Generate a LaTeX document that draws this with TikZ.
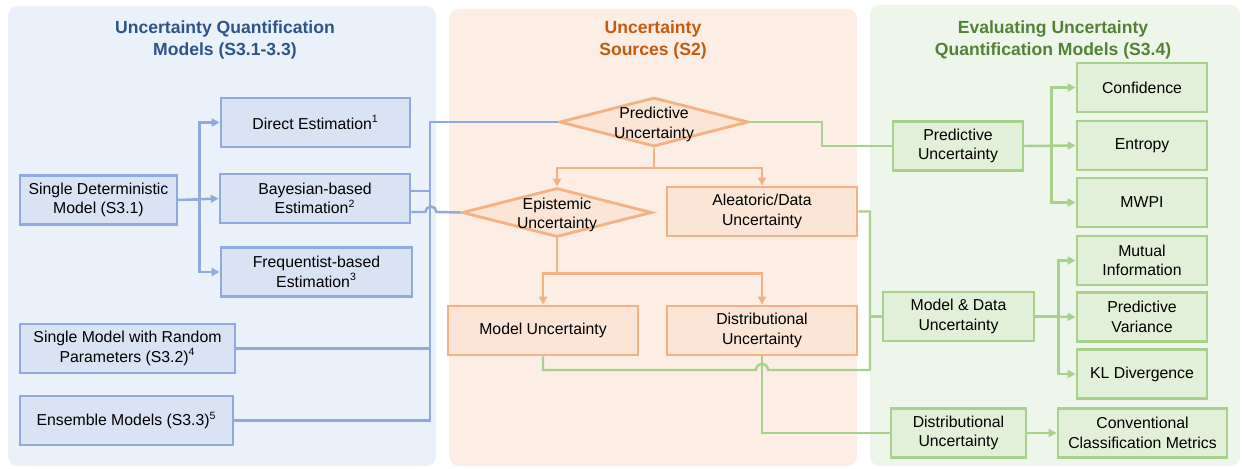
\documentclass[tikz,border=0pt]{standalone}
\usepackage{fontspec}
\setmainfont{Liberation Sans}
\usetikzlibrary{shapes.geometric, arrows.meta}
\definecolor{bluel}{HTML}{8FAADC}
\definecolor{bluef}{HTML}{DAE3F3}
\definecolor{blueb}{HTML}{EAF1FA}
\definecolor{bluet}{RGB}{46,84,140}
\definecolor{orl}{HTML}{F4B183}
\definecolor{orf}{HTML}{FBE5D6}
\definecolor{orb}{HTML}{FCEEE4}
\definecolor{ort}{HTML}{C55A11}
\definecolor{grl}{HTML}{A9D18E}
\definecolor{grf}{HTML}{E2F0D9}
\definecolor{grb}{HTML}{EEF5EA}
\definecolor{grt}{HTML}{548235}

\begin{document}
\begin{tikzpicture}[x=0.02cm, y=-0.02cm, font=\fontsize{9}{11}\selectfont,
  box/.style={draw, line width=1.6pt, minimum height=0.98cm, inner sep=2pt, align=center},
  bbox/.style={box, draw=bluel, fill=bluef},
  obox/.style={box, draw=orl, fill=orf},
  gbox/.style={box, draw=grl, fill=grf},
  dia/.style={diamond, draw=orl, fill=orf, line width=1.6pt, minimum width=3.78cm, minimum height=0.98cm},
  title/.style={font=\fontsize{10}{12}\selectfont\bfseries, align=center},
  bl/.style={draw=bluel, line width=1.4pt},
  ol/.style={draw=orl, line width=1.4pt},
  gl/.style={draw=grl, line width=1.4pt},
  tip/.style={-{Triangle[length=4.5pt,width=4.5pt]}}]
\useasboundingbox (0,0) rectangle (1244,469);
% Draw panels
\fill[blueb, rounded corners=0.2cm] (8,6) rectangle (436,466);
\fill[orb, rounded corners=0.2cm] (449,9) rectangle (857,466);
\fill[grb, rounded corners=0.2cm] (870,5) rectangle (1240,466);
\node[title, text=bluet] (tq) at (225,40) {Uncertainty Quantification\\Models (S3.1-3.3)};
\node[title, text=ort] (ts) at (653,40) {Uncertainty\\Sources (S2)};
\node[title, text=grt] (te) at (1053,40) {Evaluating Uncertainty\\Quantification Models (S3.4)};
% Draw models
\node[bbox, minimum width=3.14cm] (sdm) at (98.5,200) {Single Deterministic\\Model (S3.1)};
\node[bbox, minimum width=3.78cm] (de) at (315.5,122.5) {Direct Estimation\textsuperscript{1}};
\node[bbox, minimum width=3.8cm] (be) at (315,198.5) {Bayesian-based\\Estimation\textsuperscript{2}};
\node[bbox, minimum width=3.82cm] (fe) at (316.5,272) {Frequentist-based\\Estimation\textsuperscript{3}};
\node[bbox, minimum width=4.3cm] (srp) at (127.5,348.5) {Single Model with Random\\Parameters (S3.2)\textsuperscript{4}};
\node[bbox, minimum width=4.26cm] (ens) at (126.5,420.5) {Ensemble Models (S3.3)\textsuperscript{5}};
% Draw sources
\node[dia, label={[align=center, yshift=-0.05cm]center:Predictive\\Uncertainty}] (pu) at (654,122) {};
\node[dia, minimum width=3.8cm, label={[align=center, yshift=-0.05cm]center:Epistemic\\Uncertainty}] (ep) at (557,212.5) {};
\node[obox, minimum width=3.8cm] (al) at (762,211.5) {Aleatoric/Data\\Uncertainty};
\node[obox, minimum width=3.8cm] (mu) at (543,330.5) {Model Uncertainty};
\node[obox, minimum width=3.8cm] (du) at (762,330.5) {Distributional\\Uncertainty};
% Draw evaluation
\node[gbox, minimum width=2.6cm] (gp) at (958,146) {Predictive\\Uncertainty};
\node[gbox, minimum width=3.02cm] (md) at (958.5,316.5) {Model \& Data\\Uncertainty};
\node[gbox, minimum width=2.7cm] (gd) at (958.5,433) {Distributional\\Uncertainty};
\node[gbox, minimum width=2.6cm] (conf) at (1142,87.5) {Confidence};
\node[gbox, minimum width=2.6cm] (ent) at (1142,145.5) {Entropy};
\node[gbox, minimum width=2.6cm] (mwpi) at (1142,202.5) {MWPI};
\node[gbox, minimum width=2.6cm] (mi) at (1142,260.5) {Mutual\\Information};
\node[gbox, minimum width=2.6cm] (pv) at (1142,317) {Predictive\\Variance};
\node[gbox, minimum width=2.6cm] (kl) at (1142,374) {KL Divergence};
\node[gbox, minimum width=3.38cm] (cc) at (1142.5,433) {Conventional\\Classification Metrics};
% Draw blue connectors
\coordinate (busb) at (430,0);
\draw[bl, tip] (sdm.east) -- (be.west);
\draw[bl, tip] (sdm.east) -- ++(21,0) |- (de.west);
\draw[bl, tip] (sdm.east) -- ++(21,0) |- (fe.west);
\draw[bl] (pu.west) -| (ens.east -| busb) -- (ens.east);
\draw[bl] (srp.east) -- (srp.east -| busb);
\draw[bl] ([yshift=0.15cm]be.east) -- ([yshift=0.15cm]be.east -| busb);
\draw[bl] ([yshift=-0.27cm]be.east) -- ++(14,0) arc[start angle=180, end angle=0, radius=0.11cm] -- (ep.west);
% Draw orange connectors
\draw[ol, tip] (pu.south) -- ++(0,20) -| (ep.north);
\draw[ol, tip] (pu.south) -- ++(0,20) -| (al.north);
\draw[ol, tip] (ep.south) -- ++(0,35) -| (mu.north);
\draw[ol, tip] (ep.south) -- ++(0,35) -| (du.north);
% Draw green connectors
\coordinate (busg) at (870,370);
\draw[gl] (pu.east) -- ++(72,0) |- (gp.west);
\draw[gl, tip] (gp.east) -- (ent.west);
\draw[gl, tip] (gp.east) -- ++(27,0) |- (conf.west);
\draw[gl, tip] (gp.east) -- ++(27,0) |- (mwpi.west);
\draw[gl] (al.east) -| (busg) -- (768,370) arc[start angle=0, end angle=180, radius=0.12cm] -- (mu.south |- busg) -- (mu.south);
\draw[gl] (md.west) -- (md.west -| busg);
\draw[gl, tip] (md.east) -- (pv.west);
\draw[gl, tip] (md.east) -- ++(23,0) |- (mi.west);
\draw[gl, tip] (md.east) -- ++(23,0) |- (kl.west);
\draw[gl] (du.south) |- (gd.west);
\draw[gl, tip] (gd.east) -- (cc.west);
\end{tikzpicture}
\end{document}
